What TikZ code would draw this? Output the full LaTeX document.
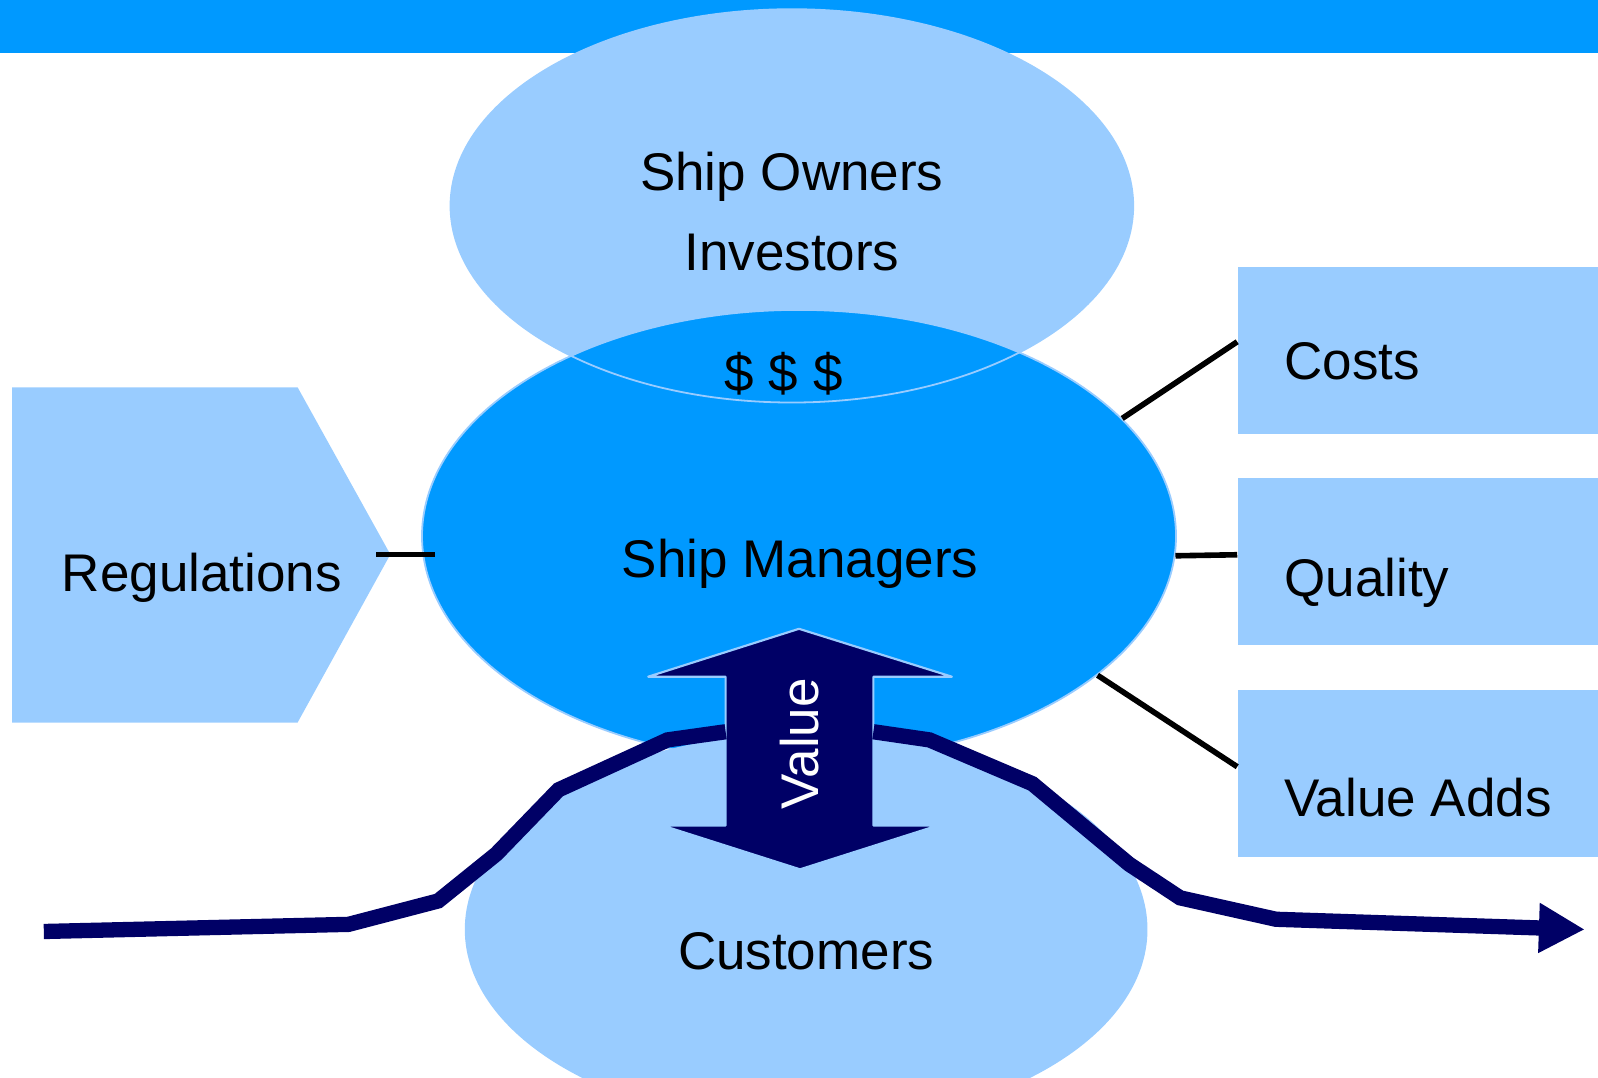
\documentclass[tikz,border=0pt]{standalone}
\usepackage{fontspec}
\setmainfont{Liberation Sans}
\usetikzlibrary{shapes,arrows,positioning,arrows.meta}
\definecolor{lightsky}{HTML}{99CCFF}
\definecolor{brightsky}{HTML}{0099FF}
\definecolor{deepnavy}{HTML}{000066}
\tikzstyle{line} = [draw, line width=0.11cm]
\tikzstyle{blob} = [ellipse, inner sep=0pt, fill=lightsky]
\tikzstyle{box} = [rectangle, inner sep=0pt, fill=lightsky, minimum width=8cm, minimum height=3.28cm, anchor=north west]
\tikzstyle{lbl} = [inner sep=0pt, anchor=base, font=\fontsize{29.6pt}{44.4pt}\selectfont]
\tikzstyle{chain} = [draw=deepnavy, line width=0.3cm]

\begin{document}
\begin{tikzpicture}[x=0.02cm, y=-0.02cm]
    \useasboundingbox (0,0) rectangle (1568,1057);
    \clip (0,0) rectangle (1568,1057);
    \fill[brightsky] (0,0) rectangle (1568,52);

    \node[blob, minimum width=13.4cm, minimum height=7.72cm] (owners) at (777,202) {};
    \node[blob, fill=brightsky, draw=lightsky, line width=1pt, minimum width=14.8cm, minimum height=8.88cm] (mgr) at (784,526) {};
    \draw[lightsky, line width=1pt] (owners.center) ellipse [x radius=6.7cm, y radius=3.86cm];
    \node[blob, minimum width=13.4cm, minimum height=7.72cm] (cust) at (791,912) {};

    % regulations
    \fill[lightsky] (12,380) -- (292,380) -- (383,544) -- (292,709) -- (12,709) -- cycle;
    \coordinate (regtip) at (383,544);
    \coordinate (mgrleft) at (regtip -| mgr.west);
    \node[lbl] (reg) at (198,580) {Regulations};

    \foreach \nm/\txt/\top/\base in {costs/Costs/262/372, quality/Quality/469/585, vadds/Value Adds/677/801}
    {
        \node[box] (\nm) at (1214,\top) {};
        \node[lbl, anchor=base west] (\nm txt) at (1260,\base) {\txt};
    };

    \draw[line] ([xshift=-0.28cm]regtip) -- ([xshift=0.28cm]mgrleft);
    \draw[line] (mgr.20) -- ([yshift=0.18cm]costs.west);
    \draw[line] (mgr.-3) -- ([yshift=0.14cm]quality.west);
    \draw[line] (mgr.-25) -- ([yshift=0.14cm]vadds.west);

    \node[lbl] (ownerstxt) at (777,187) {Ship Owners};
    \node[lbl] (investtxt) at (777,265) {Investors};
    \node[lbl] (cash) at (769,384) {\$ \$ \$};
    \node[lbl] (mgrtxt) at (785,567) {Ship Managers};
    \node[lbl] (custtxt) at (791,951) {Customers};

    % value arrow
    \path[fill=deepnavy, draw=lightsky, line width=1.2pt, line join=round] (784,617) -- (934,664) -- (857,664) -- (857,810) -- (920,810) -- (785,853) -- (650,810) -- (712,810) -- (712,664) -- (636,664) -- cycle;
    \node[lbl, anchor=center, rotate=90, text=white] (val) at (785,730) {Value};

    \draw[chain] (43,914) -- (342,907) -- (430,884) -- (487,838) -- (548,775) -- (655,726) -- (712,718);
    \draw[chain, -{Triangle[length=0.9cm, width=0.92cm]}] (857,718) -- (912,726) -- (1013,769) -- (1108,848) -- (1158,881) -- (1252,902) -- (1555,912);
\end{tikzpicture}
\end{document}
